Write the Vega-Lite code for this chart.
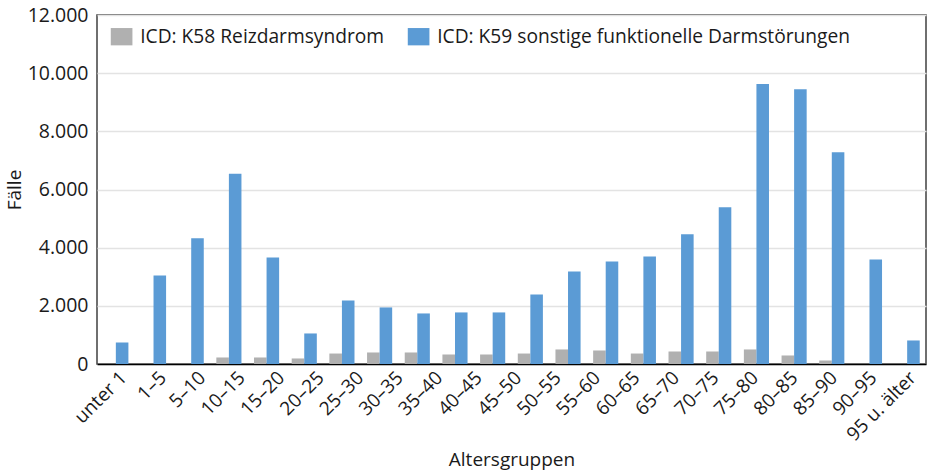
{
  "$schema": "https://vega.github.io/schema/vega-lite/v6.json",
  "width": 829,
  "height": 349,
  "autosize": {"type": "none"},
  "padding": {"left": 97, "top": 15, "right": 3, "bottom": 109},
  "background": "white",
  "config": {
    "font": "Open Sans",
    "view": {"stroke": "#404040", "strokeWidth": 1.5},
    "axis": {"labelFont": "Open Sans", "titleFont": "Open Sans", "labelColor": "#1a1a1a", "titleColor": "#1a1a1a"},
    "legend": {"labelFont": "Open Sans", "labelColor": "#1a1a1a"}
  },
  "datasets": {
    "balken": [
      {"pos": 1, "reihe": "ICD: K59 sonstige funktionelle Darmstörungen", "faelle": 740},
      {"pos": 2, "reihe": "ICD: K59 sonstige funktionelle Darmstörungen", "faelle": 3046},
      {"pos": 3, "reihe": "ICD: K59 sonstige funktionelle Darmstörungen", "faelle": 4320},
      {"pos": 4, "reihe": "ICD: K58 Reizdarmsyndrom", "faelle": 224},
      {"pos": 4, "reihe": "ICD: K59 sonstige funktionelle Darmstörungen", "faelle": 6540},
      {"pos": 5, "reihe": "ICD: K58 Reizdarmsyndrom", "faelle": 224},
      {"pos": 5, "reihe": "ICD: K59 sonstige funktionelle Darmstörungen", "faelle": 3666},
      {"pos": 6, "reihe": "ICD: K58 Reizdarmsyndrom", "faelle": 190},
      {"pos": 6, "reihe": "ICD: K59 sonstige funktionelle Darmstörungen", "faelle": 1050},
      {"pos": 7, "reihe": "ICD: K58 Reizdarmsyndrom", "faelle": 360},
      {"pos": 7, "reihe": "ICD: K59 sonstige funktionelle Darmstörungen", "faelle": 2186},
      {"pos": 8, "reihe": "ICD: K58 Reizdarmsyndrom", "faelle": 396},
      {"pos": 8, "reihe": "ICD: K59 sonstige funktionelle Darmstörungen", "faelle": 1945},
      {"pos": 9, "reihe": "ICD: K58 Reizdarmsyndrom", "faelle": 396},
      {"pos": 9, "reihe": "ICD: K59 sonstige funktionelle Darmstörungen", "faelle": 1738},
      {"pos": 10, "reihe": "ICD: K58 Reizdarmsyndrom", "faelle": 327},
      {"pos": 10, "reihe": "ICD: K59 sonstige funktionelle Darmstörungen", "faelle": 1773},
      {"pos": 11, "reihe": "ICD: K58 Reizdarmsyndrom", "faelle": 327},
      {"pos": 11, "reihe": "ICD: K59 sonstige funktionelle Darmstörungen", "faelle": 1773},
      {"pos": 12, "reihe": "ICD: K58 Reizdarmsyndrom", "faelle": 360},
      {"pos": 12, "reihe": "ICD: K59 sonstige funktionelle Darmstörungen", "faelle": 2392},
      {"pos": 13, "reihe": "ICD: K58 Reizdarmsyndrom", "faelle": 500},
      {"pos": 13, "reihe": "ICD: K59 sonstige funktionelle Darmstörungen", "faelle": 3184},
      {"pos": 14, "reihe": "ICD: K58 Reizdarmsyndrom", "faelle": 465},
      {"pos": 14, "reihe": "ICD: K59 sonstige funktionelle Darmstörungen", "faelle": 3528},
      {"pos": 15, "reihe": "ICD: K58 Reizdarmsyndrom", "faelle": 360},
      {"pos": 15, "reihe": "ICD: K59 sonstige funktionelle Darmstörungen", "faelle": 3700},
      {"pos": 16, "reihe": "ICD: K58 Reizdarmsyndrom", "faelle": 430},
      {"pos": 16, "reihe": "ICD: K59 sonstige funktionelle Darmstörungen", "faelle": 4458},
      {"pos": 17, "reihe": "ICD: K58 Reizdarmsyndrom", "faelle": 430},
      {"pos": 17, "reihe": "ICD: K59 sonstige funktionelle Darmstörungen", "faelle": 5387},
      {"pos": 18, "reihe": "ICD: K58 Reizdarmsyndrom", "faelle": 500},
      {"pos": 18, "reihe": "ICD: K59 sonstige funktionelle Darmstörungen", "faelle": 9630},
      {"pos": 19, "reihe": "ICD: K58 Reizdarmsyndrom", "faelle": 293},
      {"pos": 19, "reihe": "ICD: K59 sonstige funktionelle Darmstörungen", "faelle": 9450},
      {"pos": 20, "reihe": "ICD: K58 Reizdarmsyndrom", "faelle": 120},
      {"pos": 20, "reihe": "ICD: K59 sonstige funktionelle Darmstörungen", "faelle": 7280},
      {"pos": 21, "reihe": "ICD: K59 sonstige funktionelle Darmstörungen", "faelle": 3597},
      {"pos": 22, "reihe": "ICD: K59 sonstige funktionelle Darmstörungen", "faelle": 809}
    ],
    "beschriftung": [
      {"label": "unter 1"}, {"label": "1–5"}, {"label": "5–10"}, {"label": "10–15"},
      {"label": "15–20"}, {"label": "20–25"}, {"label": "25–30"}, {"label": "30–35"},
      {"label": "35–40"}, {"label": "40–45"}, {"label": "45–50"}, {"label": "50–55"},
      {"label": "55–60"}, {"label": "60–65"}, {"label": "65–70"}, {"label": "70–75"},
      {"label": "75–80"}, {"label": "80–85"}, {"label": "85–90"}, {"label": "90–95"},
      {"label": "95 u. älter"}
    ]
  },
  "layer": [
    {
      "data": {"name": "balken"},
      "mark": {"type": "bar"},
      "encoding": {
        "x": {"field": "pos", "type": "ordinal", "axis": null,
              "scale": {"paddingInner": 0.3333, "paddingOuter": 0.1667}},
        "xOffset": {"field": "reihe", "type": "nominal",
                    "scale": {"domain": ["ICD: K58 Reizdarmsyndrom", "ICD: K59 sonstige funktionelle Darmstörungen"], "paddingInner": 0, "paddingOuter": 0}},
        "y": {"field": "faelle", "type": "quantitative",
              "scale": {"domain": [0, 12000], "nice": false},
              "axis": {"title": "Fälle", "values": [0, 2000, 4000, 6000, 8000, 10000, 12000],
                       "labelExpr": "replace(format(datum.value, ','), ',', '.')",
                       "grid": true, "gridColor": "#e3e3e3", "gridWidth": 1.5,
                       "domain": false, "ticks": false, "labelFontSize": 19.5, "labelPadding": 9,
                       "titleFontSize": 19, "titleFontWeight": "normal", "titlePadding": 3}},
        "color": {"field": "reihe", "type": "nominal",
                  "scale": {"domain": ["ICD: K58 Reizdarmsyndrom", "ICD: K59 sonstige funktionelle Darmstörungen"], "range": ["#b0b0b0", "#5b9bd5"]},
                  "legend": {"title": null, "orient": "none", "legendX": 15, "legendY": 12, "direction": "horizontal",
                             "symbolType": "M-1.25,-1L1.25,-1L1.25,1L-1.25,1Z", "symbolSize": 300, "symbolStrokeWidth": 0,
                             "labelFontSize": 19.2, "labelOffset": 9, "columnPadding": 22, "labelLimit": 0}}
      }
    },
    {
      "data": {"name": "beschriftung"},
      "mark": {"type": "point", "opacity": 0},
      "encoding": {
        "x": {"field": "label", "type": "nominal", "sort": null,
              "axis": {"title": "Altersgruppen", "orient": "bottom", "labelAngle": -45, "labelFontSize": 19,
                       "titleFontSize": 19, "titleFontWeight": "normal", "domain": true, "domainColor": "#000000",
                       "domainWidth": 1.5, "ticks": false, "labelPadding": 4, "titlePadding": 6}}
      }
    }
  ],
  "resolve": {"scale": {"x": "independent"}, "axis": {"x": "independent"}}
}
